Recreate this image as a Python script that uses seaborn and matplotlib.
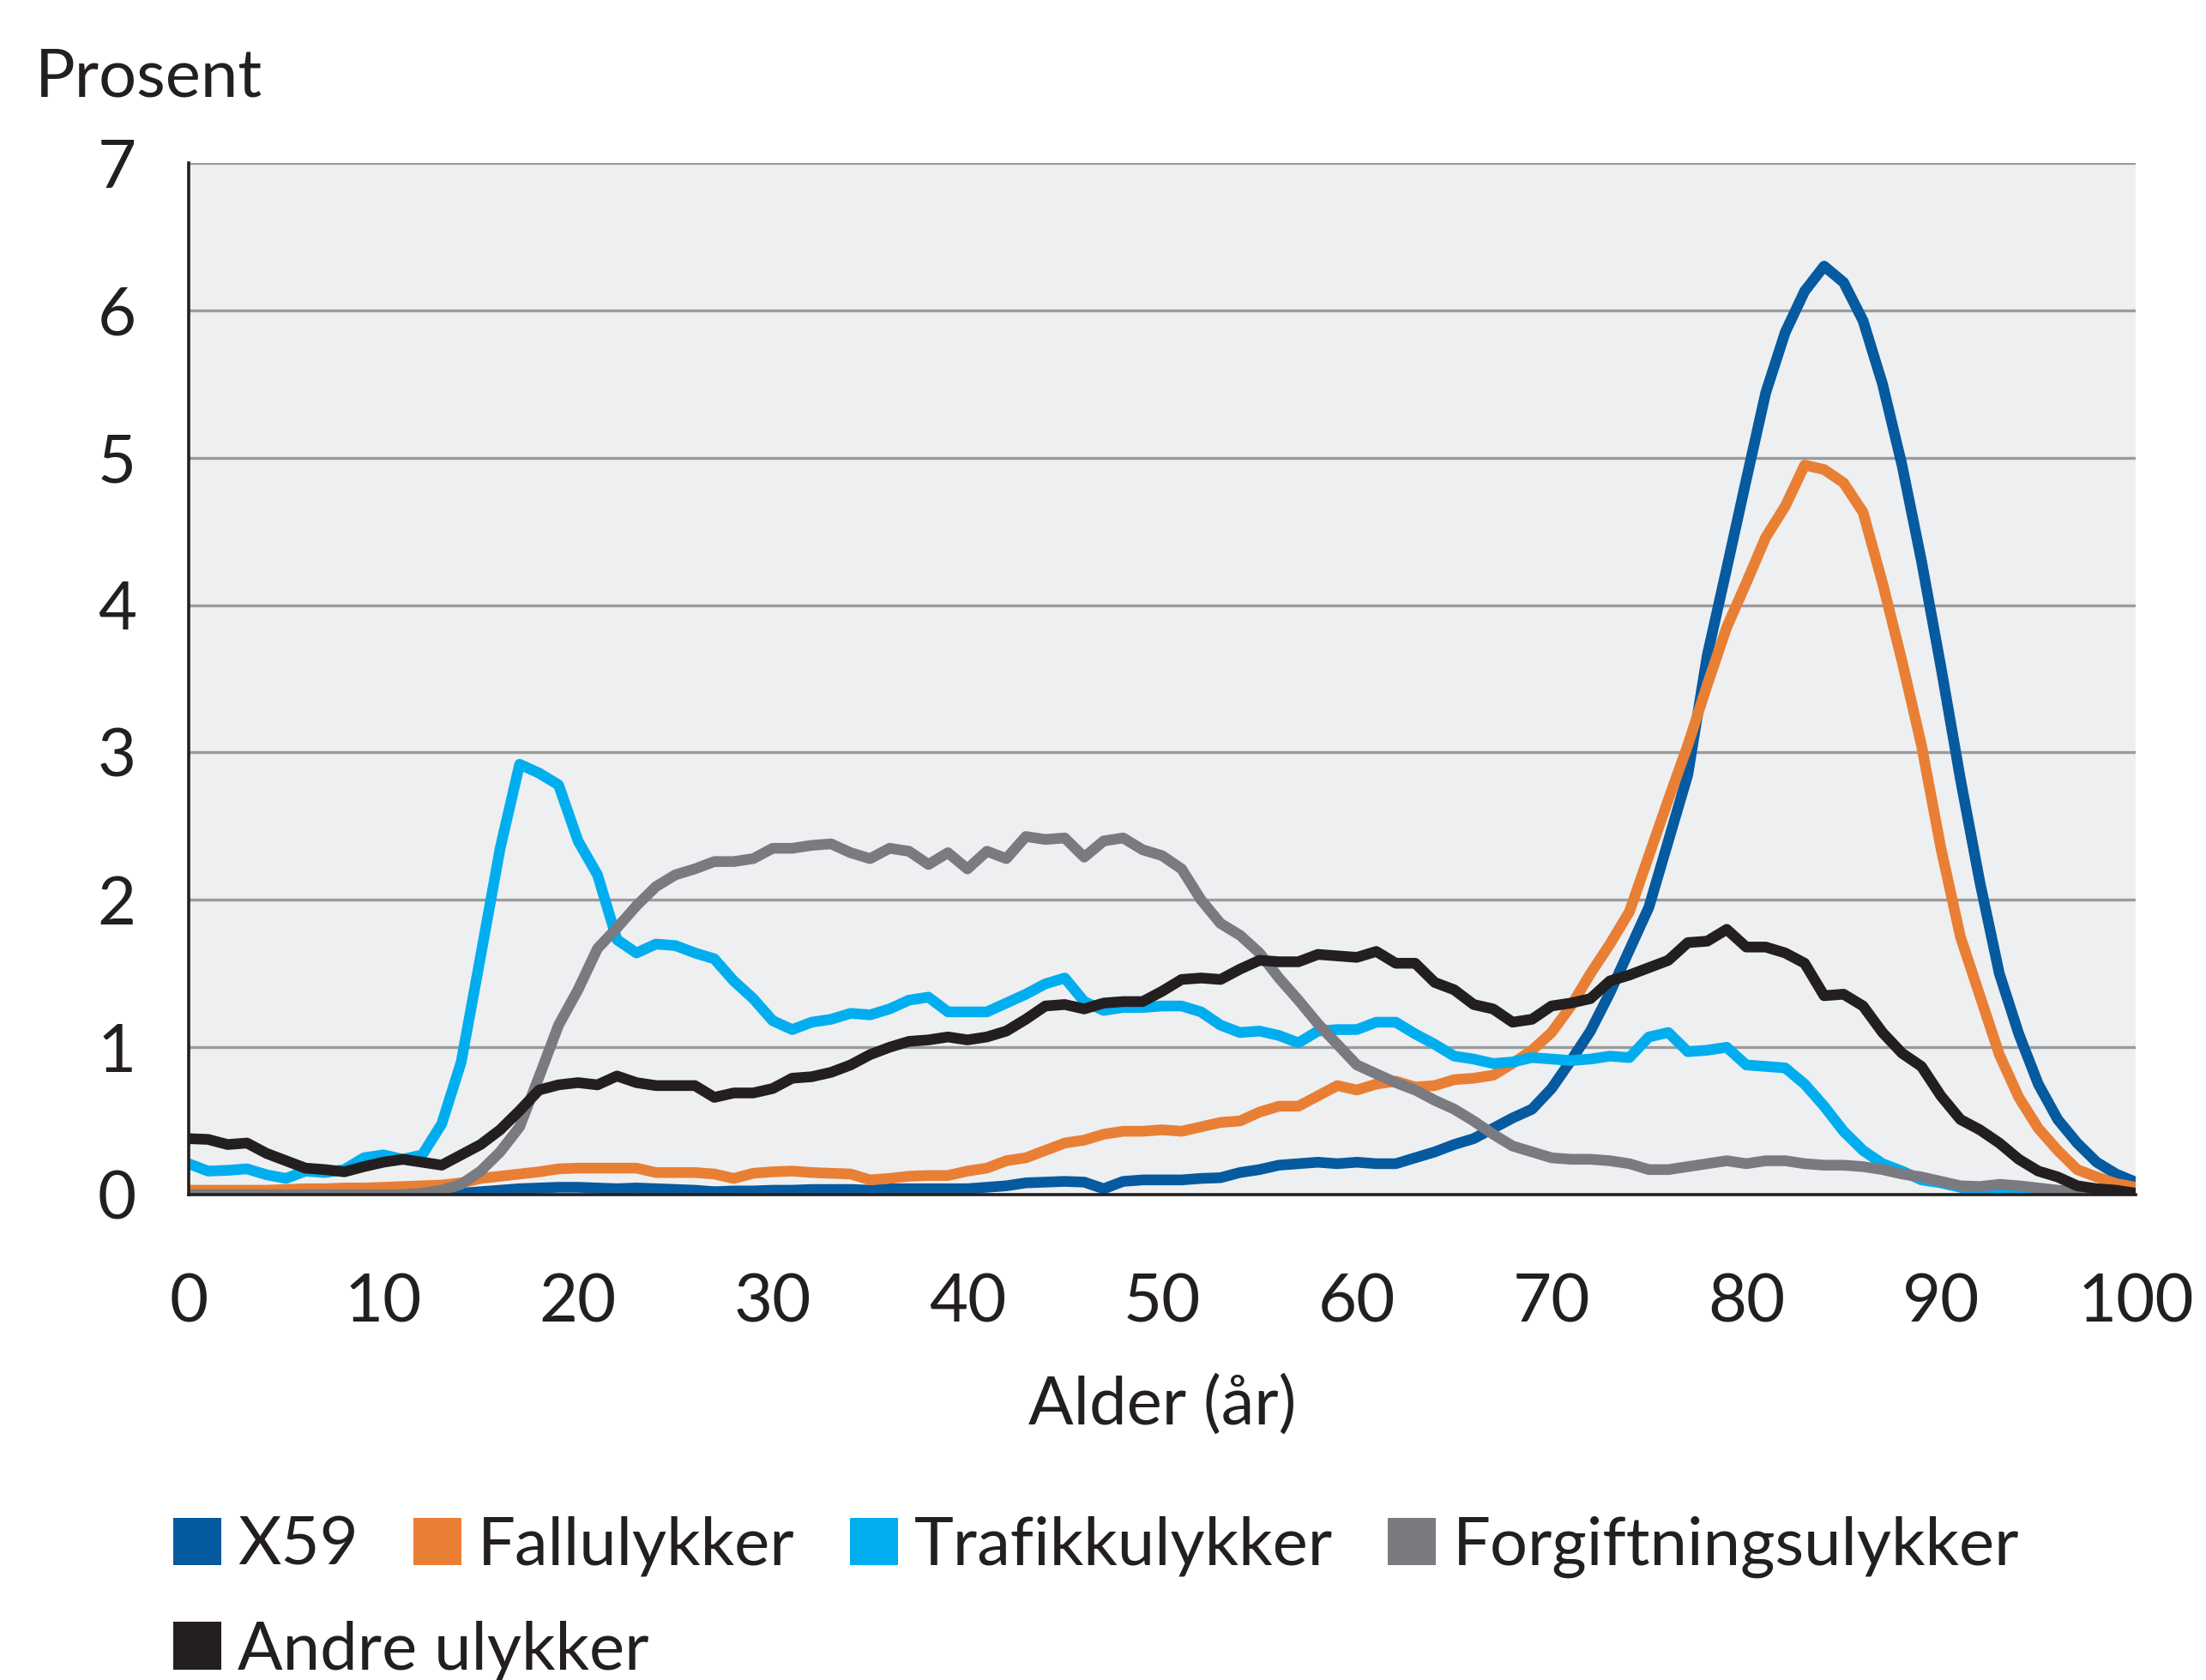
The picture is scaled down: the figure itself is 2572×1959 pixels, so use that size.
import numpy as np
import pandas as pd
import matplotlib
matplotlib.use("Agg")
import matplotlib.pyplot as plt
from matplotlib.patches import Patch
import seaborn as sns

# alder 0-100
ages = list(range(0, 101))

x59 = [
    0.00, 0.00, 0.00, 0.00, 0.00, 0.00, 0.00, 0.00, 0.00, 0.00,
    0.00, 0.00, 0.00, 0.00, 0.01, 0.02, 0.03, 0.04, 0.045, 0.05,
    0.05, 0.045, 0.04, 0.045, 0.04, 0.035, 0.03, 0.02, 0.025, 0.025,
    0.03, 0.03, 0.035, 0.035, 0.035, 0.03, 0.04, 0.04, 0.04, 0.04,
    0.04, 0.05, 0.06, 0.08, 0.085, 0.09, 0.085, 0.04, 0.09, 0.10,
    0.10, 0.10, 0.11, 0.115, 0.15, 0.17, 0.20, 0.21, 0.22, 0.21,
    0.22, 0.21, 0.21, 0.25, 0.29, 0.34, 0.38, 0.45, 0.52, 0.58,
    0.72, 0.91, 1.11, 1.37, 1.66, 1.95, 2.40, 2.85, 3.66, 4.25,
    4.85, 5.44, 5.85, 6.13, 6.30, 6.19, 5.93, 5.50, 4.95, 4.30,
    3.58, 2.82, 2.12, 1.50, 1.09, 0.75, 0.51, 0.35, 0.22, 0.14,
    0.085,
]

fall = [
    0.03, 0.03, 0.03, 0.03, 0.03, 0.035, 0.04, 0.04, 0.045, 0.045,
    0.05, 0.055, 0.06, 0.065, 0.08, 0.11, 0.125, 0.14, 0.155, 0.175,
    0.18, 0.18, 0.18, 0.18, 0.15, 0.15, 0.15, 0.14, 0.11, 0.145,
    0.155, 0.16, 0.15, 0.145, 0.14, 0.10, 0.11, 0.125, 0.13, 0.13,
    0.16, 0.18, 0.23, 0.25, 0.30, 0.35, 0.37, 0.41, 0.43, 0.43,
    0.44, 0.43, 0.46, 0.49, 0.50, 0.56, 0.60, 0.60, 0.67, 0.74,
    0.71, 0.75, 0.77, 0.73, 0.74, 0.78, 0.79, 0.81, 0.89, 0.98,
    1.10, 1.28, 1.50, 1.70, 1.92, 2.30, 2.68, 3.05, 3.46, 3.85,
    4.15, 4.46, 4.67, 4.95, 4.92, 4.83, 4.63, 4.15, 3.62, 3.05,
    2.35, 1.75, 1.35, 0.95, 0.66, 0.45, 0.30, 0.17, 0.12, 0.075,
    0.05,
]

trafikk = [
    0.21, 0.16, 0.165, 0.175, 0.135, 0.11, 0.16, 0.15, 0.17, 0.25,
    0.27, 0.24, 0.27, 0.48, 0.90, 1.62, 2.35, 2.92, 2.86, 2.78,
    2.40, 2.17, 1.73, 1.64, 1.70, 1.69, 1.64, 1.60, 1.45, 1.33,
    1.18, 1.12, 1.17, 1.19, 1.23, 1.22, 1.26, 1.32, 1.34, 1.24,
    1.24, 1.24, 1.30, 1.36, 1.43, 1.47, 1.31, 1.25, 1.27, 1.27,
    1.28, 1.28, 1.24, 1.15, 1.10, 1.11, 1.08, 1.03, 1.11, 1.12,
    1.12, 1.17, 1.17, 1.09, 1.02, 0.94, 0.92, 0.89, 0.90, 0.93,
    0.92, 0.91, 0.92, 0.94, 0.93, 1.07, 1.10, 0.97, 0.98, 1.00,
    0.88, 0.87, 0.86, 0.75, 0.60, 0.43, 0.30, 0.21, 0.16, 0.10,
    0.08, 0.05, 0.01, 0.005, 0.00, 0.00, 0.00, 0.00, 0.00, 0.00,
    0.00,
]

forgiftning = [
    0.00, 0.00, 0.00, 0.00, 0.00, 0.00, 0.00, 0.00, 0.00, 0.00,
    0.00, 0.00, 0.01, 0.03, 0.07, 0.16, 0.29, 0.46, 0.80, 1.15,
    1.39, 1.67, 1.81, 1.96, 2.09, 2.17, 2.21, 2.26, 2.26, 2.28,
    2.35, 2.35, 2.37, 2.38, 2.32, 2.28, 2.35, 2.33, 2.24, 2.32,
    2.21, 2.33, 2.28, 2.43, 2.41, 2.42, 2.29, 2.40, 2.42, 2.34,
    2.30, 2.21, 2.00, 1.84, 1.76, 1.64, 1.47, 1.32, 1.16, 1.02,
    0.88, 0.82, 0.76, 0.71, 0.64, 0.58, 0.50, 0.41, 0.33, 0.29,
    0.25, 0.24, 0.24, 0.23, 0.21, 0.17, 0.17, 0.19, 0.21, 0.23,
    0.21, 0.23, 0.23, 0.21, 0.20, 0.20, 0.19, 0.17, 0.14, 0.12,
    0.09, 0.06, 0.055, 0.07, 0.06, 0.045, 0.03, 0.02, 0.015, 0.01,
    0.005,
]

andre = [
    0.38, 0.375, 0.34, 0.35, 0.28, 0.23, 0.18, 0.17, 0.155, 0.19,
    0.22, 0.24, 0.22, 0.20, 0.27, 0.34, 0.44, 0.57, 0.71, 0.745,
    0.76, 0.745, 0.805, 0.76, 0.74, 0.74, 0.74, 0.66, 0.69, 0.69,
    0.72, 0.79, 0.80, 0.83, 0.88, 0.95, 1.00, 1.04, 1.05, 1.07,
    1.05, 1.07, 1.11, 1.19, 1.28, 1.29, 1.26, 1.30, 1.31, 1.31,
    1.38, 1.46, 1.47, 1.46, 1.53, 1.59, 1.58, 1.58, 1.63, 1.62,
    1.61, 1.65, 1.57, 1.57, 1.44, 1.39, 1.29, 1.26, 1.17, 1.19,
    1.28, 1.30, 1.33, 1.45, 1.49, 1.54, 1.59, 1.71, 1.72, 1.80,
    1.68, 1.68, 1.64, 1.57, 1.35, 1.36, 1.28, 1.10, 0.96, 0.87,
    0.67, 0.51, 0.44, 0.35, 0.24, 0.16, 0.12, 0.06, 0.04, 0.03,
    0.01,
]

labels = ["X59", "Fallulykker", "Trafikkulykker", "Forgiftningsulykker", "Andre ulykker"]
colors = ["#055AA0", "#E97F34", "#00AEEF", "#7A7B80", "#231F20"]

df = pd.concat([
    pd.DataFrame({"alder": ages, "prosent": vals, "serie": name})
    for name, vals in zip(labels, [x59, fall, trafikk, forgiftning, andre])
])

sns.set_style("white")
plt.rcParams["font.family"] = ["Lato", "DejaVu Sans"]
FS = 56
TXT = "#231F20"

fig = plt.figure(figsize=(25.72, 19.59), dpi=100)
ax = fig.add_axes([0.0855, 0.2889, 0.8826, 0.6141])
ax.set_facecolor("#EEEFF1")

sns.lineplot(data=df, x="alder", y="prosent", hue="serie", hue_order=labels,
             palette=dict(zip(labels, colors)), linewidth=9, legend=False,
             ax=ax, estimator=None, sort=False)

ax.set_xlim(0, 100)
ax.set_ylim(0, 7)
ax.set_xticks(range(0, 101, 10))
ax.set_yticks(range(0, 8))
ax.yaxis.grid(True, color="#9B9B9B", linewidth=2.4)
ax.xaxis.grid(False)
ax.set_axisbelow(True)

for s in ["top", "right"]:
    ax.spines[s].set_visible(False)
for s in ["left", "bottom"]:
    ax.spines[s].set_color(TXT)
    ax.spines[s].set_linewidth(2.6)

ax.tick_params(axis="both", direction="out", length=26, width=2.4,
               color=TXT, labelsize=FS, labelcolor=TXT)
ax.tick_params(axis="y", pad=18)
ax.tick_params(axis="x", pad=40)
ax.set_ylabel("")
ax.set_xlabel("Alder (år)", fontsize=FS, color=TXT, labelpad=34)

fig.text(0.0159, 0.9428, "Prosent", fontsize=FS, color=TXT, ha="left", va="baseline")

handles = [Patch(facecolor=c, edgecolor="none") for c in colors]
leg_kw = dict(loc="center left", frameon=False, fontsize=FS, handlelength=0.72,
              handleheight=0.72, handletextpad=0.25, columnspacing=0.82,
              borderpad=0, borderaxespad=0, labelcolor=TXT)
leg1 = fig.legend(handles[:4], labels[:4], ncol=4,
                  bbox_to_anchor=(0.0785, 0.0791), **leg_kw)
leg2 = fig.legend(handles[4:], labels[4:], ncol=1,
                  bbox_to_anchor=(0.0785, 0.0175), **leg_kw)

fig.savefig("out.png", dpi=100)
